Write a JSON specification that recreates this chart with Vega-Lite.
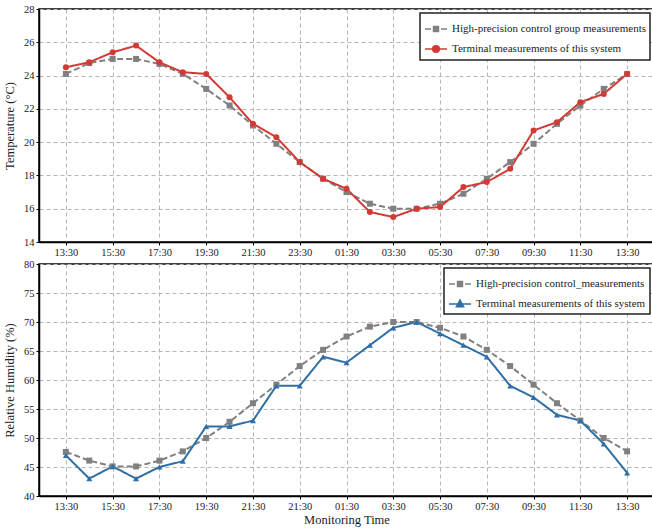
{
  "$schema": "https://vega.github.io/schema/vega-lite/v6.json",
  "background": "white",
  "padding": {"left": 2, "top": 3, "right": 0, "bottom": 0},
  "bounds": "flush",
  "spacing": 22,
  "config": {
    "font": "Liberation Serif",
    "view": {"stroke": "black", "strokeWidth": 1.5},
    "axis": {
      "labelFont": "Liberation Serif",
      "titleFont": "Liberation Serif",
      "labelFontSize": 10.5,
      "titleFontSize": 12.5,
      "titleFontWeight": "normal",
      "labelColor": "#222",
      "titleColor": "#222",
      "domainColor": "black",
      "domainWidth": 1.5,
      "tickColor": "black",
      "tickSize": 3,
      "labelPadding": 2,
      "gridColor": "#b5b5b5",
      "gridDash": [4, 3],
      "gridWidth": 1
    },
    "legend": {
      "labelFont": "Liberation Serif",
      "labelFontSize": 11,
      "labelColor": "#222",
      "labelLimit": 400,
      "strokeColor": "#222",
      "strokeWidth": 1.5,
      "fillColor": "white",
      "padding": 4,
      "rowPadding": 2,
      "symbolSize": 484,
      "symbolOpacity": 1,
      "symbolStrokeWidth": 1.6,
      "labelOffset": 4,
      "orient": "top-right",
      "offset": 4
    }
  },
  "datasets": {
    "temp": [
      {"t": 0, "control": 24.1, "terminal": 24.5},
      {"t": 1, "control": 24.75, "terminal": 24.8},
      {"t": 2, "control": 25.0, "terminal": 25.4},
      {"t": 3, "control": 25.0, "terminal": 25.8},
      {"t": 4, "control": 24.7, "terminal": 24.8},
      {"t": 5, "control": 24.1, "terminal": 24.2},
      {"t": 6, "control": 23.2, "terminal": 24.1},
      {"t": 7, "control": 22.2, "terminal": 22.7},
      {"t": 8, "control": 21.0, "terminal": 21.1},
      {"t": 9, "control": 19.9, "terminal": 20.3},
      {"t": 10, "control": 18.8, "terminal": 18.8},
      {"t": 11, "control": 17.8, "terminal": 17.8},
      {"t": 12, "control": 17.0, "terminal": 17.2},
      {"t": 13, "control": 16.3, "terminal": 15.8},
      {"t": 14, "control": 16.0, "terminal": 15.5},
      {"t": 15, "control": 16.0, "terminal": 16.0},
      {"t": 16, "control": 16.3, "terminal": 16.1},
      {"t": 17, "control": 16.9, "terminal": 17.3},
      {"t": 18, "control": 17.8, "terminal": 17.6},
      {"t": 19, "control": 18.8, "terminal": 18.4},
      {"t": 20, "control": 19.9, "terminal": 20.7},
      {"t": 21, "control": 21.1, "terminal": 21.2},
      {"t": 22, "control": 22.2, "terminal": 22.4},
      {"t": 23, "control": 23.2, "terminal": 22.9},
      {"t": 24, "control": 24.1, "terminal": 24.1}
    ],
    "hum": [
      {"t": 0, "control": 47.6, "terminal": 47.0},
      {"t": 1, "control": 46.1, "terminal": 43.0},
      {"t": 2, "control": 45.1, "terminal": 45.1},
      {"t": 3, "control": 45.1, "terminal": 43.0},
      {"t": 4, "control": 46.1, "terminal": 45.0},
      {"t": 5, "control": 47.7, "terminal": 46.0},
      {"t": 6, "control": 50.0, "terminal": 52.0},
      {"t": 7, "control": 52.8, "terminal": 52.0},
      {"t": 8, "control": 56.0, "terminal": 53.0},
      {"t": 9, "control": 59.2, "terminal": 59.0},
      {"t": 10, "control": 62.4, "terminal": 59.0},
      {"t": 11, "control": 65.2, "terminal": 64.0},
      {"t": 12, "control": 67.5, "terminal": 63.0},
      {"t": 13, "control": 69.2, "terminal": 66.0},
      {"t": 14, "control": 70.0, "terminal": 69.0},
      {"t": 15, "control": 70.0, "terminal": 70.0},
      {"t": 16, "control": 69.0, "terminal": 68.0},
      {"t": 17, "control": 67.5, "terminal": 66.0},
      {"t": 18, "control": 65.2, "terminal": 64.0},
      {"t": 19, "control": 62.4, "terminal": 59.0},
      {"t": 20, "control": 59.2, "terminal": 57.0},
      {"t": 21, "control": 56.0, "terminal": 54.0},
      {"t": 22, "control": 53.0, "terminal": 53.0},
      {"t": 23, "control": 50.0, "terminal": 49.0},
      {"t": 24, "control": 47.7, "terminal": 44.0}
    ]
  },
  "resolve": {"scale": {"color": "independent", "shape": "independent", "strokeDash": "independent", "fill": "independent", "stroke": "independent"}},
  "vconcat": [
    {
      "width": 615,
      "height": 233,
      "data": {"name": "temp"},
      "transform": [
        {"fold": ["control", "terminal"], "as": ["key", "value"]},
        {"calculate": "datum.key === 'control' ? 'High-precision control group measurements' : 'Terminal measurements of this system'", "as": "series"}
      ],
      "resolve": {
        "scale": {"shape": "independent"},
        "legend": {"color": "independent", "shape": "independent", "strokeDash": "independent", "fill": "independent", "stroke": "independent"}
      },
      "encoding": {
        "x": {
          "field": "t", "type": "quantitative",
          "scale": {"domain": [-1.15, 25.15], "nice": false, "zero": false},
          "axis": {
            "title": null,
            "values": [0, 2, 4, 6, 8, 10, 12, 14, 16, 18, 20, 22, 24],
            "labelExpr": "['13:30','15:30','17:30','19:30','21:30','23:30','01:30','03:30','05:30','07:30','09:30','11:30','13:30'][round(datum.value/2)]"
          }
        },
        "y": {
          "field": "value", "type": "quantitative",
          "scale": {"domain": [14, 28], "nice": false, "zero": false},
          "axis": {"title": "Temperature (°C)", "values": [14, 16, 18, 20, 22, 24, 26, 28], "titlePadding": 7}
        }
      },
      "layer": [
        {
          "mark": {"type": "line", "strokeWidth": 2},
          "encoding": {
            "color": {"field": "series", "type": "nominal", "scale": {"domain": ["High-precision control group measurements", "Terminal measurements of this system"], "range": ["#808080", "#d33a34"]}, "legend": null},
            "strokeDash": {"field": "series", "type": "nominal", "scale": {"domain": ["High-precision control group measurements", "Terminal measurements of this system"], "range": [[6, 3], [1, 0]]}, "legend": null}
          }
        },
        {
          "mark": {"type": "point", "filled": true, "opacity": 1, "size": 36},
          "encoding": {
            "color": {"field": "series", "type": "nominal", "scale": {"domain": ["High-precision control group measurements", "Terminal measurements of this system"], "range": ["#808080", "#d33a34"]}, "legend": null},
            "shape": {"field": "series", "type": "nominal", "scale": {"domain": ["High-precision control group measurements", "Terminal measurements of this system"], "range": ["square", "circle"]}, "legend": null}
          }
        },
        {
          "mark": {"type": "point", "filled": true, "opacity": 0, "size": 484, "strokeWidth": 1.6},
          "encoding": {
            "fill": {"field": "series", "type": "nominal", "scale": {"domain": ["High-precision control group measurements", "Terminal measurements of this system"], "range": ["#808080", "#d33a34"]}, "legend": {"title": null}},
            "stroke": {"field": "series", "type": "nominal", "scale": {"domain": ["High-precision control group measurements", "Terminal measurements of this system"], "range": ["#808080", "#d33a34"]}, "legend": {"title": null}},
            "shape": {"field": "series", "type": "nominal", "scale": {"domain": ["High-precision control group measurements", "Terminal measurements of this system"], "range": ["M-1,0H-0.45M0.45,0H1M-0.22,-0.22H0.22V0.22H-0.22Z", "M-1,0H1M0.3,0A0.3,0.3 0 1,1 -0.3,0A0.3,0.3 0 1,1 0.3,0Z"]}, "legend": {"title": null}}
          }
        }
      ]
    },
    {
      "width": 615,
      "height": 232,
      "data": {"name": "hum"},
      "transform": [
        {"fold": ["control", "terminal"], "as": ["key", "value"]},
        {"calculate": "datum.key === 'control' ? 'High-precision control_measurements' : 'Terminal measurements of this system'", "as": "series"}
      ],
      "resolve": {
        "scale": {"shape": "independent"},
        "legend": {"color": "independent", "shape": "independent", "strokeDash": "independent", "fill": "independent", "stroke": "independent"}
      },
      "encoding": {
        "x": {
          "field": "t", "type": "quantitative",
          "scale": {"domain": [-1.15, 25.15], "nice": false, "zero": false},
          "axis": {
            "title": "Monitoring Time",
            "titlePadding": 2,
            "values": [0, 2, 4, 6, 8, 10, 12, 14, 16, 18, 20, 22, 24],
            "labelExpr": "['13:30','15:30','17:30','19:30','21:30','21:30','01:30','03:30','05:30','07:30','09:30','11:30','13:30'][round(datum.value/2)]"
          }
        },
        "y": {
          "field": "value", "type": "quantitative",
          "scale": {"domain": [40, 80], "nice": false, "zero": false},
          "axis": {"title": "Relative Humidity (%)", "values": [40, 45, 50, 55, 60, 65, 70, 75, 80], "titlePadding": 7}
        }
      },
      "layer": [
        {
          "mark": {"type": "line", "strokeWidth": 2},
          "encoding": {
            "color": {"field": "series", "type": "nominal", "scale": {"domain": ["High-precision control_measurements", "Terminal measurements of this system"], "range": ["#808080", "#2e6fa8"]}, "legend": null},
            "strokeDash": {"field": "series", "type": "nominal", "scale": {"domain": ["High-precision control_measurements", "Terminal measurements of this system"], "range": [[6, 3], [1, 0]]}, "legend": null}
          }
        },
        {
          "mark": {"type": "point", "filled": true, "opacity": 1, "size": 36},
          "encoding": {
            "color": {"field": "series", "type": "nominal", "scale": {"domain": ["High-precision control_measurements", "Terminal measurements of this system"], "range": ["#808080", "#2e6fa8"]}, "legend": null},
            "shape": {"field": "series", "type": "nominal", "scale": {"domain": ["High-precision control_measurements", "Terminal measurements of this system"], "range": ["square", "triangle-up"]}, "legend": null}
          }
        },
        {
          "mark": {"type": "point", "filled": true, "opacity": 0, "size": 484, "strokeWidth": 1.6},
          "encoding": {
            "fill": {"field": "series", "type": "nominal", "scale": {"domain": ["High-precision control_measurements", "Terminal measurements of this system"], "range": ["#808080", "#2e6fa8"]}, "legend": {"title": null}},
            "stroke": {"field": "series", "type": "nominal", "scale": {"domain": ["High-precision control_measurements", "Terminal measurements of this system"], "range": ["#808080", "#2e6fa8"]}, "legend": {"title": null}},
            "shape": {"field": "series", "type": "nominal", "scale": {"domain": ["High-precision control_measurements", "Terminal measurements of this system"], "range": ["M-1,0H-0.45M0.45,0H1M-0.22,-0.22H0.22V0.22H-0.22Z", "M-1,0H1M0,-0.34L0.32,0.24H-0.32Z"]}, "legend": {"title": null}}
          }
        }
      ]
    }
  ]
}
